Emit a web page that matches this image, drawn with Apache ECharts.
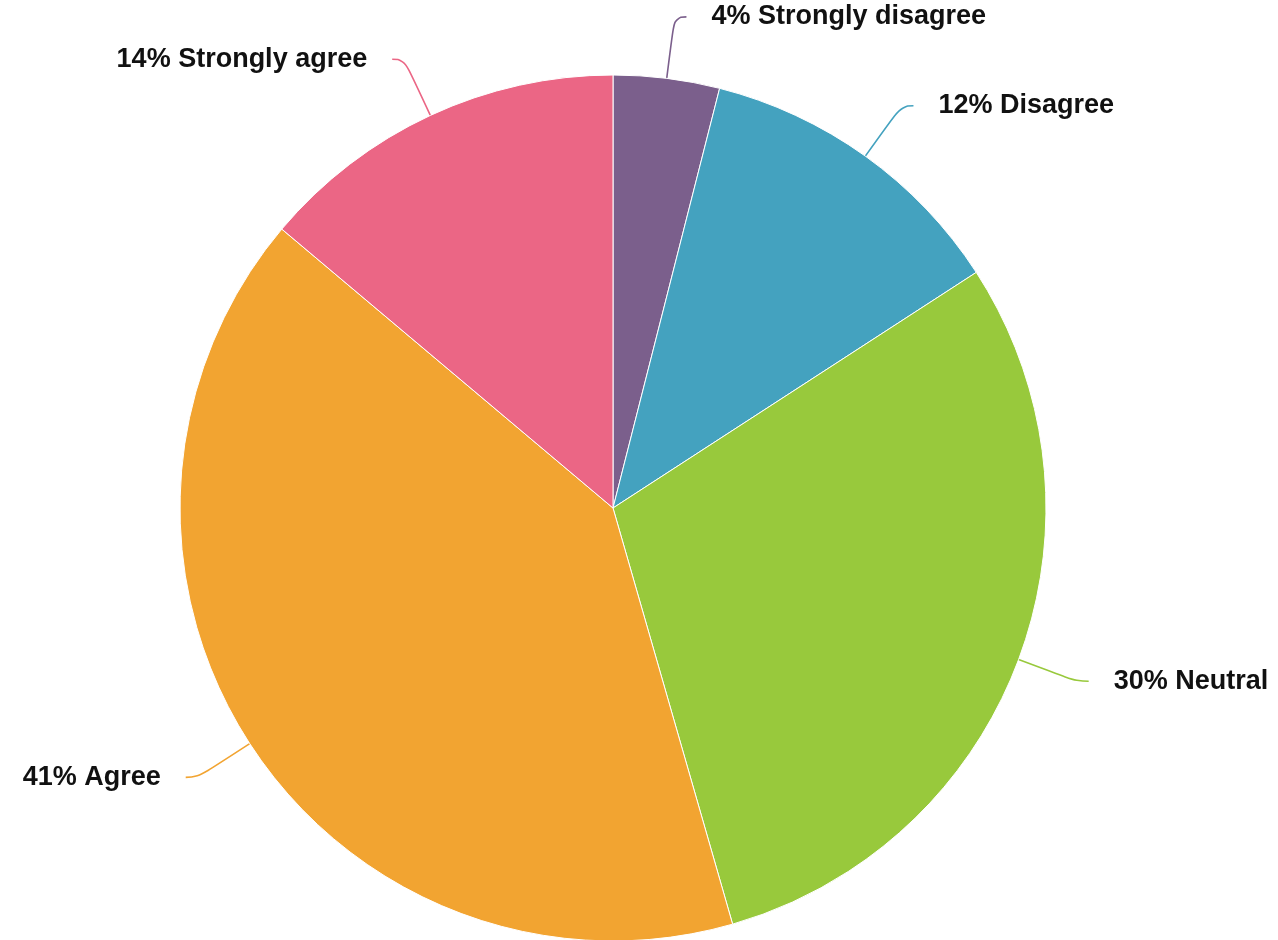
<!DOCTYPE html>
<html>
<head>
<meta charset="utf-8">
<style>html,body{margin:0;padding:0;background:#fff;}#chart{width:1278px;height:940px;}</style>
<script src="https://cdn.jsdelivr.net/npm/echarts@6/dist/echarts.min.js"></script>
</head>
<body>
<div id="chart"></div>
<script>
const categories = ["Strongly disagree", "Disagree", "Neutral", "Agree", "Strongly agree"];
const values = [4, 12, 30, 41, 14];
const colors = ["#7B5F8C", "#44A2BF", "#98C93C", "#F2A431", "#EB6685"];

const chart = echarts.init(document.getElementById('chart'), null, {renderer: 'canvas'});
chart.setOption({
  animation: false,
  series: [{
    type: 'pie',
    center: [613, 508],
    radius: 433,
    startAngle: 90,
    clockwise: true,
    data: categories.map((c, i) => ({name: c, value: values[i], itemStyle: {color: colors[i]}})),
    itemStyle: {borderColor: '#fff', borderWidth: 1},
    label: {
      formatter: p => p.value + '% ' + p.name,
      color: '#111',
      fontFamily: 'Liberation Sans, Arial, sans-serif',
      fontWeight: 'bold',
      fontSize: 27,
      overflow: 'none',
      distanceToLabelLine: 25
    },
    labelLine: {
      show: true,
      length: 62,
      length2: 12,
      smooth: 0.5,
      lineStyle: {width: 1.6}
    },
    emphasis: {disabled: true}
  }]
});
</script>
</body>
</html>
